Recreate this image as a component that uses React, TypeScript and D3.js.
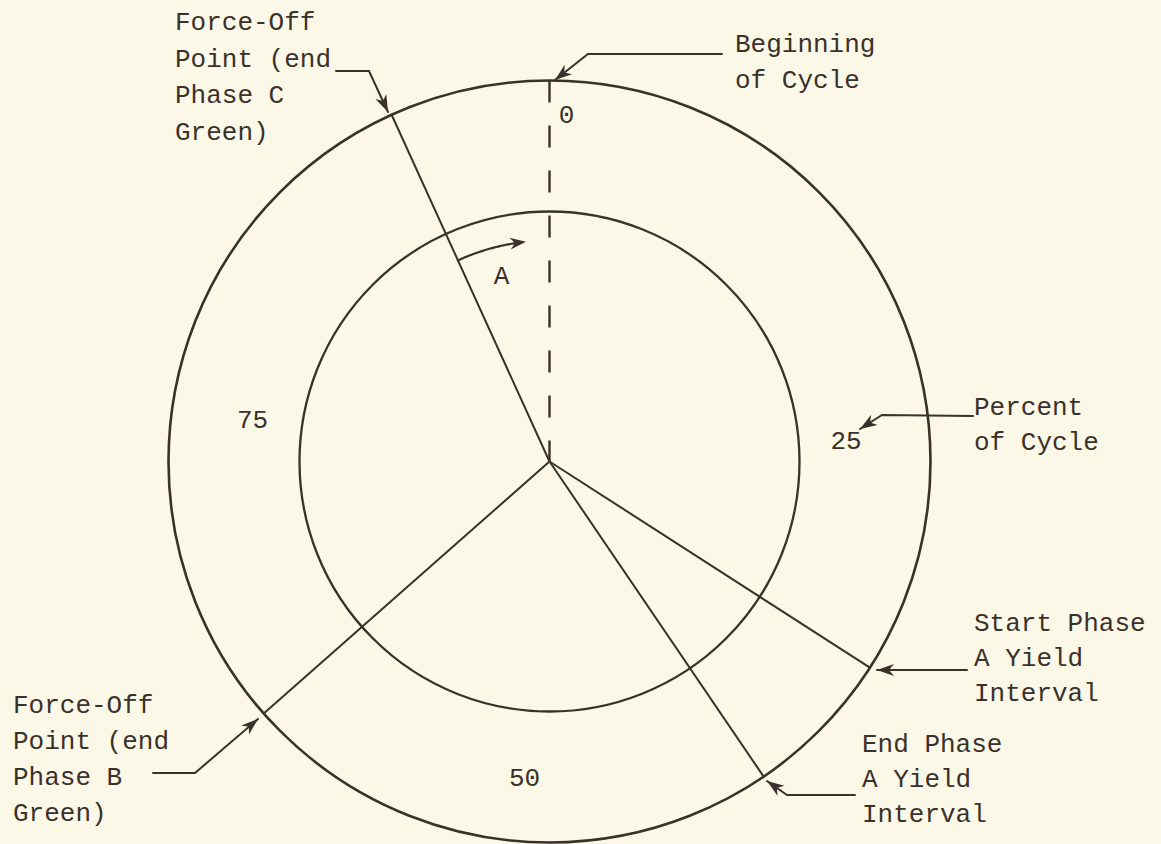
import React from 'react';
import * as d3 from 'd3';

// ---- data (percent of cycle) ----
const cycleTicks = [0, 25, 50, 75];
const tickLabels = ['0', '25', '50', '75'];
const radialNames = ['forceOffC', 'forceOffB', 'endA', 'startA'];
const radialPercents = [93.2, 63.5, 40.5, 34.1];
const beginningPercent = 0;
const arcAFrom = 93.2;
const arcATo = 98.3;
const arcLabel = 'A';

const labelForceOffC = ['Force-Off', 'Point (end', 'Phase C', 'Green)'];
const labelBeginning = ['Beginning', 'of Cycle'];
const labelPercent = ['Percent', 'of Cycle'];
const labelStartA = ['Start Phase', 'A Yield', 'Interval'];
const labelEndA = ['End Phase', 'A Yield', 'Interval'];
const labelForceOffB = ['Force-Off', 'Point (end', 'Phase B', 'Green)'];

// ---- layout / style ----
const W = 1161, H = 844;
const cx = 549.5, cy = 461.5;
const outerR = 381, innerR = 250, arcR = 221;
const INK = '#3a312b';
const BG = '#fbf8e8';
const FONT = "'Courier New', 'Liberation Mono', monospace";
const FS = 26;

const angle = d3.scaleLinear().domain([0, 100]).range([0, 2 * Math.PI]);
const polar = (pct: number, r: number): [number, number] => {
  const a = angle(pct);
  return [cx + r * Math.sin(a), cy - r * Math.cos(a)];
};

const tickPos: Record<string, { x: number; y: number }> = {
  '0': { x: 566.5, y: 123 },
  '25': { x: 846, y: 449 },
  '50': { x: 524.5, y: 786 },
  '75': { x: 252.5, y: 428 },
};

type Callout = {
  lines: string[];
  x: number; y: number; dy: number;
  path: [number, number][];
};

const callouts: Callout[] = [
  { lines: labelForceOffC, x: 175, y: 30, dy: 36.5, path: [[336, 71], [369, 71], [388, 112]] },
  { lines: labelBeginning, x: 735, y: 52, dy: 36, path: [[722, 54], [588, 54], [555, 80]] },
  { lines: labelPercent, x: 974, y: 415, dy: 35, path: [[973, 416], [882, 415], [860, 429]] },
  { lines: labelStartA, x: 974, y: 631, dy: 35, path: [[967, 670], [877, 670]] },
  { lines: labelEndA, x: 862, y: 752, dy: 35, path: [[855, 795], [787, 795], [767, 781]] },
  { lines: labelForceOffB, x: 13, y: 713, dy: 36, path: [[153, 773], [195, 773], [258, 719]] },
];

function arrowHead(from: [number, number], tip: [number, number], len = 17, half = 6, notch = 12) {
  const dx = tip[0] - from[0], dy = tip[1] - from[1];
  const d = Math.hypot(dx, dy) || 1;
  const ux = dx / d, uy = dy / d;
  const px = -uy, py = ux;
  const bx = tip[0] - ux * len, by = tip[1] - uy * len;
  const nx = tip[0] - ux * notch, ny = tip[1] - uy * notch;
  return `M${tip[0]},${tip[1]}L${bx + px * half},${by + py * half}L${nx},${ny}L${bx - px * half},${by - py * half}Z`;
}

export default function App() {
  const line = d3.line();
  const arcPts = d3.range(0, 41).map((i) => polar(arcAFrom + ((arcATo - arcAFrom) * i) / 40, arcR));
  const arcEnd = arcPts[arcPts.length - 1];
  const arcPrev = arcPts[arcPts.length - 4];
  const [bx0, by0] = polar(beginningPercent, outerR);

  return (
    <svg width={W} height={H} style={{ position: 'absolute', left: 0, top: 0, display: 'block' }}>
      <rect x={0} y={0} width={W} height={H} fill={BG} />
      <g fill="none" stroke={INK} strokeLinecap="round">
        <circle cx={cx} cy={cy} r={outerR} strokeWidth={2.6} />
        <circle cx={cx} cy={cy} r={innerR} strokeWidth={2.3} />
        <line x1={bx0} y1={by0} x2={cx} y2={cy} strokeWidth={2.4} strokeDasharray="22 23" strokeLinecap="butt" />
        {radialPercents.map((p, i) => {
          const [x, y] = polar(p, outerR);
          return <line key={radialNames[i]} x1={cx} y1={cy} x2={x} y2={y} strokeWidth={2} />;
        })}
        <path d={line(arcPts.slice(0, -3)) || ''} strokeWidth={2.2} />
        {callouts.map((c, i) => (
          <path key={'l' + i} d={line(c.path.slice(0, -1).concat([c.path[c.path.length - 1]])) || ''} strokeWidth={2} />
        ))}
      </g>
      <g fill={INK} stroke="none">
        <path d={arrowHead(arcPrev, arcEnd, 16, 6, 11)} />
        {callouts.map((c, i) => (
          <path key={'a' + i} d={arrowHead(c.path[c.path.length - 2], c.path[c.path.length - 1])} />
        ))}
      </g>
      <g fill={INK} fontFamily={FONT} fontSize={FS}>
        {cycleTicks.map((t, i) => (
          <text key={'t' + t} x={tickPos[tickLabels[i]].x} y={tickPos[tickLabels[i]].y} textAnchor="middle">
            {tickLabels[i]}
          </text>
        ))}
        <text x={501.5} y={284} textAnchor="middle">{arcLabel}</text>
        {callouts.map((c, i) => (
          <text key={'c' + i} x={c.x} y={c.y}>
            {c.lines.map((s, j) => (
              <tspan key={j} x={c.x} y={c.y + j * c.dy}>{s}</tspan>
            ))}
          </text>
        ))}
      </g>
    </svg>
  );
}
